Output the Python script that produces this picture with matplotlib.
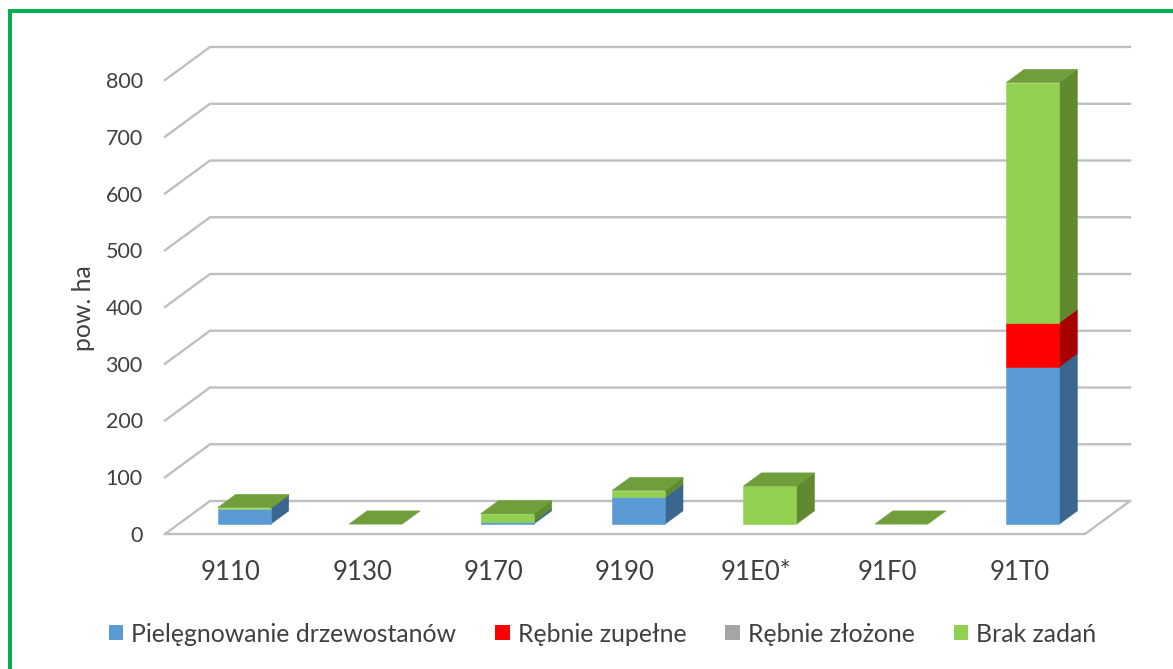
import matplotlib
matplotlib.use("Agg")
import matplotlib.pyplot as plt
from matplotlib.patches import Patch
from matplotlib.lines import Line2D

plt.rcParams['font.family'] = ['Lato', 'DejaVu Sans']

categories = ['9110', '9130', '9170', '9190', '91E0*', '91F0', '91T0']
pielegnowanie = [27, 0, 4, 47, 0, 0, 277]
rebnie_zupelne = [0, 0, 0, 0, 0, 0, 78]
rebnie_zlozone = [0, 0, 0, 0, 0, 0, 0]
brak_zadan = [2, 0, 14, 12, 67, 0, 423]
series_names = ['Pielęgnowanie drzewostanów', 'Rębnie zupełne', 'Rębnie złożone', 'Brak zadań']
y_ticks = [0, 100, 200, 300, 400, 500, 600, 700, 800]

series_values = [pielegnowanie, rebnie_zupelne, rebnie_zlozone, brak_zadan]
front_colors = ['#5B9BD5', '#FF0000', '#A5A5A5', '#92D050']
side_colors = ['#3A668F', '#A80000', '#6E6E6E', '#5F8A30']
top_color = '#6F9E3A'
grid_color = '#BFBFBF'
text_color = '#404040'

W, H = 1173, 669
fig = plt.figure(figsize=(W / 100, H / 100), dpi=100, facecolor='white')
ax = fig.add_axes([165 / W, 1 - 534 / H, 920 / W, 454 / H])
ax.set_xlim(-0.5, 6.5)
ax.set_ylim(0, 800)
ax.patch.set_visible(False)
for s in ax.spines.values():
    s.set_visible(False)

# oblique projection: depth 0 = front plane, depth 1 = back wall
DX = 45 / (920 / 7)
DY = 33 / (454 / 800)
BAR_W = 53 / (920 / 7)
D_FRONT, D_BACK = 0.30, 0.70


def proj(x, v, d):
    return x + d * DX, v + d * DY


def face(points, color, z):
    xs, ys = zip(*[proj(*p) for p in points])
    ax.fill(xs, ys, color=color, lw=0.4, clip_on=False, zorder=z)


# wall and floor grid
for t in y_ticks:
    xs, ys = zip(proj(-0.5, t, 0), proj(-0.5, t, 1), proj(6.5, t, 1))
    ax.plot(xs, ys, color=grid_color, lw=1.7, clip_on=False, zorder=1, solid_joinstyle='miter')
xs, ys = zip(proj(-0.5, 0, 0), proj(6.5, 0, 0), proj(6.5, 0, 1))
ax.plot(xs, ys, color=grid_color, lw=1.7, clip_on=False, zorder=1, solid_joinstyle='miter')

# bars
for i in range(len(categories)):
    x0 = i - BAR_W / 2
    x1 = i + BAR_W / 2
    base = 0
    for vals, fc, sc in zip(series_values, front_colors, side_colors):
        v = vals[i]
        if v > 0:
            top = base + v
            face([(x1, base, D_FRONT), (x1, base, D_BACK), (x1, top, D_BACK), (x1, top, D_FRONT)], sc, 3)
            face([(x0, base, D_FRONT), (x1, base, D_FRONT), (x1, top, D_FRONT), (x0, top, D_FRONT)], fc, 4)
            base = top
    face([(x0, base, D_FRONT), (x1, base, D_FRONT), (x1, base, D_BACK), (x0, base, D_BACK)], top_color, 5)

# axes text
ax.set_xticks(range(len(categories)), categories)
ax.set_yticks(y_ticks)
ax.tick_params(axis='x', length=0, labelsize=18.5, labelcolor=text_color, pad=19)
ax.tick_params(axis='y', length=0, labelsize=15.5, labelcolor=text_color, pad=16)
for lab in ax.get_yticklabels():
    lab.set_verticalalignment('center_baseline')
ax.set_ylabel('pow. ha', fontsize=17.8, color=text_color)
ax.yaxis.set_label_coords((95 - 165) / 920, (534 - 308) / 454)

# legend
handles = [Patch(facecolor=c, edgecolor='none') for c in front_colors]
leg = fig.legend(handles, series_names, loc='center left', bbox_to_anchor=(109 / W, 1 - 634 / H),
                 ncol=4, frameon=False, fontsize=17.9, labelcolor=text_color, borderaxespad=0, borderpad=0,
                 handlelength=0.58, handleheight=0.58, handletextpad=0.32, columnspacing=1.57)

# green frame (top and left edges)
fig.add_artist(Line2D([10 / W, 10 / W, 1], [0, 1 - 11 / H, 1 - 11 / H], transform=fig.transFigure,
                      color='#00B050', lw=2.9, solid_joinstyle='miter'))

fig.savefig('out.png', dpi=100)
